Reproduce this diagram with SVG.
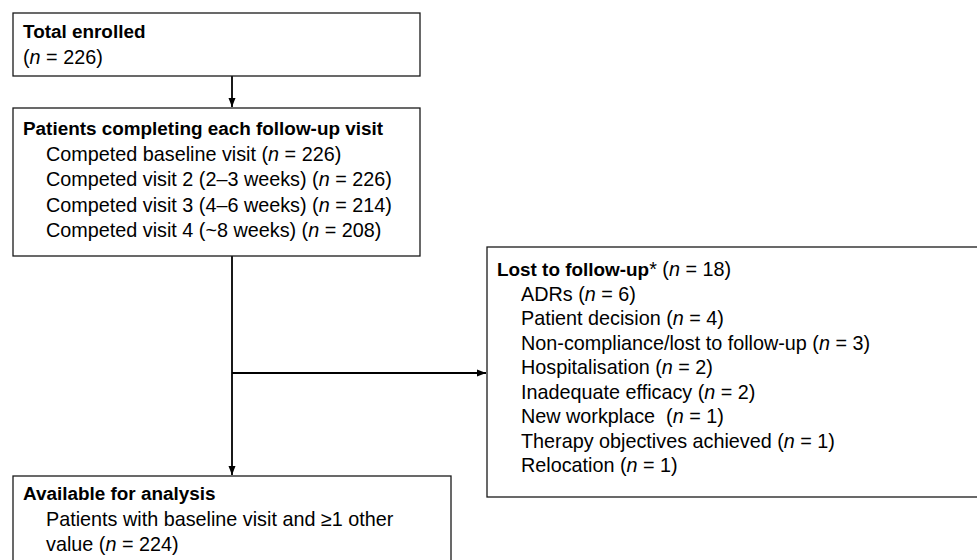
<svg xmlns="http://www.w3.org/2000/svg" width="977" height="560" viewBox="0 0 977 560">
<defs>
<style>
.box{fill:#fff;stroke:#1a1a1a;stroke-width:1.3}
.conn{fill:none;stroke:#000;stroke-width:1.8}
text{font-family:"Liberation Sans",Arial,sans-serif;font-size:19.8px;fill:#000;white-space:pre}
.b{font-weight:bold;font-size:18.9px}
.i{font-style:italic}
</style>
<marker id="ah" markerWidth="9" markerHeight="8" refX="9" refY="4" orient="auto" markerUnits="userSpaceOnUse">
<path d="M0,0.5 L9,4 L0,7.5 Z" fill="#000"/>
</marker>
</defs>
<rect width="977" height="560" fill="#fff"/>
<g id="connectors">
<line class="conn" x1="232" y1="76" x2="232" y2="107" marker-end="url(#ah)"/>
<line class="conn" x1="232" y1="256" x2="232" y2="475" marker-end="url(#ah)"/>
<line class="conn" x1="232" y1="373" x2="486" y2="373" marker-end="url(#ah)"/>
</g>
<g id="total-enrolled">
<rect class="box" x="13" y="13" width="407" height="63"/>
<text x="23" y="38" class="b">Total enrolled</text>
<text x="23" y="64">(<tspan class="i">n</tspan> = 226)</text>
</g>
<g id="follow-up">
<rect class="box" x="13" y="108" width="407" height="148"/>
<text x="23" y="135" class="b">Patients completing each follow-up visit</text>
<text x="46" y="160.5">Competed baseline visit (<tspan class="i">n</tspan> = 226)</text>
<text x="46" y="186">Competed visit 2 (2–3 weeks) (<tspan class="i">n</tspan> = 226)</text>
<text x="46" y="211.5">Competed visit 3 (4–6 weeks) (<tspan class="i">n</tspan> = 214)</text>
<text x="46" y="237">Competed visit 4 (~8 weeks) (<tspan class="i">n</tspan> = 208)</text>
</g>
<g id="lost">
<rect class="box" x="487" y="247" width="500" height="250"/>
<text x="497" y="276"><tspan class="b">Lost to follow-up</tspan>* (<tspan class="i">n</tspan> = 18)</text>
<text x="521" y="300.5">ADRs (<tspan class="i">n</tspan> = 6)</text>
<text x="521" y="325">Patient decision (<tspan class="i">n</tspan> = 4)</text>
<text x="521" y="349.5">Non-compliance/lost to follow-up (<tspan class="i">n</tspan> = 3)</text>
<text x="521" y="374">Hospitalisation (<tspan class="i">n</tspan> = 2)</text>
<text x="521" y="398.5">Inadequate efficacy (<tspan class="i">n</tspan> = 2)</text>
<text x="521" y="423">New workplace  (<tspan class="i">n</tspan> = 1)</text>
<text x="521" y="447.5">Therapy objectives achieved (<tspan class="i">n</tspan> = 1)</text>
<text x="521" y="472">Relocation (<tspan class="i">n</tspan> = 1)</text>
</g>
<g id="available">
<rect class="box" x="13" y="476" width="438" height="100"/>
<text x="23" y="500" class="b">Available for analysis</text>
<text x="46" y="526">Patients with baseline visit and ≥1 other</text>
<text x="46" y="551">value (<tspan class="i">n</tspan> = 224)</text>
</g>
</svg>
